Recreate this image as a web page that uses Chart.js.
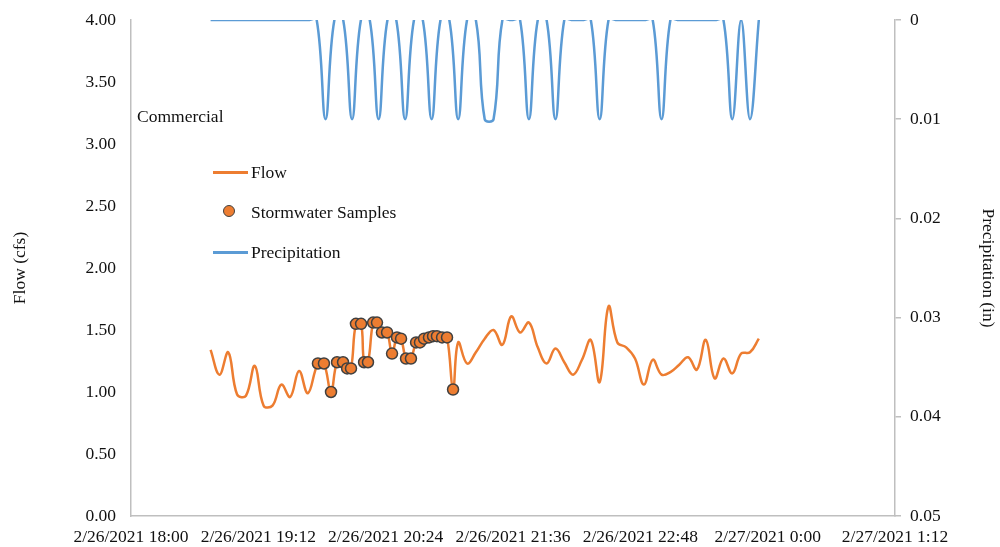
<!DOCTYPE html>
<html lang="en">
<head>
<meta charset="UTF-8" />
<title>Commercial - Flow, Samples and Precipitation</title>
<script src="https://cdn.jsdelivr.net/npm/chart.js"></script>
<style>
  body {
    margin: 0;
    background: #fff;
    font-family: 'Liberation Serif', 'Times New Roman', serif;
    color: #111;
  }
  .wrap {
    position: relative;
    width: 1000px;
    height: 547px;
  }
  .txt {
    position: absolute;
    font-size: 17.5px;
    line-height: 22px;
    white-space: nowrap;
  }
  .line-key {
    position: absolute;
    width: 35px;
    height: 2.5px;
  }
  .dot-key {
    position: absolute;
    width: 10px;
    height: 10px;
    border-radius: 50%;
    background: #ed7d31;
    border: 1.5px solid #404040;
  }
</style>
</head>
<body>
<div class="wrap">
  <canvas id="flowChart" width="1000" height="547"></canvas>

  <!-- in-plot note and legend, placed like the Excel original -->
  <div class="txt" style="left:137px; top:105px;">Commercial</div>

  <div class="line-key" style="left:213px; top:171px; background:#ed7d31;"></div>
  <div class="txt" style="left:251px; top:161px;">Flow</div>

  <div class="dot-key" style="left:223px; top:205px;"></div>
  <div class="txt" style="left:251px; top:201px;">Stormwater Samples</div>

  <div class="line-key" style="left:213px; top:251px; background:#5b9bd5;"></div>
  <div class="txt" style="left:251px; top:241px;">Precipitation</div>
</div>

<script>
// times are minutes after 2/26/2021 18:00
const flowTimes = [45, 50, 55, 60, 65, 70, 75, 80, 85, 90, 95, 100,
  105.7, 109.1, 113.1, 116.5, 119.9, 122.2, 124.4, 127.2, 130.1, 131.8, 134.0, 136.9, 139.1,
  141.9, 144.8, 147.6, 150.4, 152.7, 155.5, 158.3, 161.2, 163.4, 165.7, 168.5, 170.8, 173.0,
  175.9, 178.7, 182.1,
  185, 190, 195, 200, 205, 210, 215, 220, 225, 230, 235, 240, 245, 250, 255, 260, 265, 270,
  275, 280, 285, 290, 295, 300, 305, 310, 315, 320, 325, 330, 335, 340, 345, 350, 355];
const flowValues = [1.34, 1.14, 1.32, 0.98, 0.97, 1.21, 0.89, 0.89, 1.06, 0.96, 1.17, 0.99,
  1.23, 1.23, 1.00, 1.24, 1.24, 1.19, 1.19, 1.55, 1.55, 1.24, 1.24, 1.56, 1.56,
  1.48, 1.48, 1.31, 1.44, 1.43, 1.27, 1.27, 1.40, 1.40, 1.43, 1.44, 1.45, 1.45,
  1.44, 1.44, 1.02,
  1.40, 1.23, 1.32, 1.43, 1.50, 1.38, 1.61, 1.48, 1.56, 1.36, 1.23, 1.35, 1.24, 1.14, 1.26,
  1.42, 1.08, 1.69, 1.40, 1.36, 1.27, 1.06, 1.26, 1.14, 1.16, 1.22, 1.28, 1.18, 1.42, 1.11,
  1.27, 1.15, 1.31, 1.32, 1.43];

const sampleTimes = [105.7, 109.1, 113.1, 116.5, 119.9, 122.2, 124.4, 127.2, 130.1, 131.8,
  134.0, 136.9, 139.1, 141.9, 144.8, 147.6, 150.4, 152.7, 155.5, 158.3, 161.2, 163.4, 165.7,
  168.5, 170.8, 173.0, 175.9, 178.7, 182.1];
const sampleFlows = [1.23, 1.23, 1.00, 1.24, 1.24, 1.19, 1.19, 1.55, 1.55, 1.24,
  1.24, 1.56, 1.56, 1.48, 1.48, 1.31, 1.44, 1.43, 1.27, 1.27, 1.40, 1.40, 1.43,
  1.44, 1.45, 1.45, 1.44, 1.44, 1.02];

// 5-minute precipitation record, 18:45 to 23:55
const rainStart = 45;
const rainStep = 5;
const rainValues = [0, 0, 0, 0, 0, 0, 0, 0, 0, 0, 0, 0, 0,
  0.01, 0, 0, 0.01, 0, 0, 0.01, 0, 0, 0.01, 0, 0, 0.01, 0, 0, 0.01, 0, 0,
  0.01, 0.01, 0, 0, 0, 0.01, 0, 0, 0.01, 0, 0, 0, 0, 0.01, 0, 0, 0, 0, 0, 0,
  0.01, 0, 0, 0, 0, 0, 0, 0, 0.01, 0, 0.01, 0];

const xMin = 0, xMax = 432, xStep = 72;
const flowTicks = { min: 0, max: 4, step: 0.5 };
const rainTicks = { min: 0, max: 0.05, step: 0.01 };

const flowColor = '#ed7d31';
const rainColor = '#5b9bd5';
const axisColor = '#bfbfbf';
const textColor = '#111';
const font = { family: "'Liberation Serif', 'Times New Roman', serif", size: 17.5 };

function timeLabel(m) {
  const total = 18 * 60 + m;
  const day = 26 + Math.floor(total / 1440);
  const inDay = total % 1440;
  const hh = Math.floor(inDay / 60);
  const mm = Math.round(inDay % 60);
  return `2/${day}/2021 ${hh}:${String(mm).padStart(2, '0')}`;
}

const flowPts = flowTimes.map((t, i) => ({ x: t, y: flowValues[i] }));
const samplePts = sampleTimes.map((t, i) => ({ x: t, y: sampleFlows[i] }));
const rainPts = rainValues.map((v, i) => ({ x: rainStart + i * rainStep, y: v }));

// pin the plot box to where Excel put it
function fixVertical(width) {
  return s => {
    s.width = width;
    s.paddingTop = 0;
    s.paddingBottom = 0;
  };
}

new Chart(document.getElementById('flowChart'), {
  type: 'line',
  data: {
    datasets: [
      {
        type: 'scatter',
        label: 'Stormwater Samples',
        data: samplePts,
        yAxisID: 'y',
        backgroundColor: flowColor,
        borderColor: '#404040',
        borderWidth: 1.5,
        pointRadius: 5.5,
        order: 0
      },
      {
        label: 'Flow',
        data: flowPts,
        yAxisID: 'y',
        borderColor: flowColor,
        borderWidth: 2.5,
        pointRadius: 0,
        tension: 0.4,
        order: 1
      },
      {
        label: 'Precipitation',
        data: rainPts,
        yAxisID: 'y1',
        borderColor: rainColor,
        borderWidth: 2.5,
        pointRadius: 0,
        tension: 0.4,
        capBezierPoints: false,
        order: 2
      }
    ]
  },
  options: {
    responsive: false,
    animation: false,
    devicePixelRatio: 1,
    layout: { padding: { top: 20, left: 0, right: 0, bottom: 0 } },
    plugins: {
      legend: { display: false },
      tooltip: { enabled: false }
    },
    scales: {
      x: {
        type: 'linear',
        min: xMin,
        max: xMax,
        afterFit: s => {
          s.height = 31;
          s.paddingLeft = 0;
          s.paddingRight = 0;
        },
        ticks: {
          stepSize: xStep,
          autoSkip: false,
          maxRotation: 0,
          padding: 11,
          color: textColor,
          font: font,
          callback: v => timeLabel(v)
        },
        grid: { drawOnChartArea: false, drawTicks: false },
        border: { color: axisColor, width: 1.5 }
      },
      y: {
        position: 'left',
        min: flowTicks.min,
        max: flowTicks.max,
        afterFit: fixVertical(131),
        ticks: {
          stepSize: flowTicks.step,
          padding: 15,
          color: textColor,
          font: font,
          callback: v => Number(v).toFixed(2)
        },
        title: { display: true, text: 'Flow (cfs)', color: textColor, font: font, padding: { top: 10 } },
        grid: { drawOnChartArea: false, drawTicks: false },
        border: { color: axisColor, width: 1.5 }
      },
      y1: {
        position: 'right',
        reverse: true,
        min: rainTicks.min,
        max: rainTicks.max,
        afterFit: fixVertical(105),
        ticks: {
          stepSize: rainTicks.step,
          padding: 9,
          color: textColor,
          font: font,
          callback: v => (v === 0 ? '0' : Number(v).toFixed(2))
        },
        title: { display: true, text: 'Precipitation (in)', color: textColor, font: font, padding: { top: 2 } },
        grid: { drawOnChartArea: false, drawTicks: true, tickLength: 6, color: axisColor, lineWidth: 1.5 },
        border: { color: axisColor, width: 1.5 }
      }
    }
  }
});
</script>
</body>
</html>
